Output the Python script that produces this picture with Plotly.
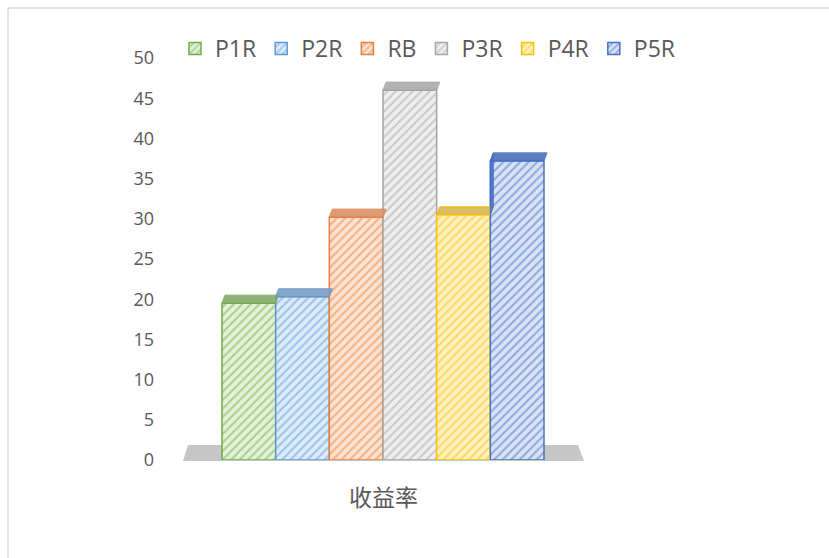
import plotly.graph_objects as go

# ---- data ----
categories = ["收益率"]
series_names = ["P1R", "P2R", "RB", "P3R", "P4R", "P5R"]
series_values = [19.5, 20.3, 30.2, 46.0, 30.5, 37.2]
y_ticks = [0, 5, 10, 15, 20, 25, 30, 35, 40, 45, 50]

# ---- styles ----
fg_colors = ["#70AD47", "#5B9BD5", "#ED7D31", "#A5A5A5", "#FFC000", "#4472C4"]
bg_colors = ["#E4F1DA", "#DDEBF8", "#FBE3D3", "#EFEFEF", "#FFF1C4", "#D9E3F4"]
cap_colors = ["#86A96C", "#7C9CC2", "#D9916A", "#ABABAB", "#D6B44E", "#4B6EBE"]

W, H = 829, 558
L, R, T, B = 183, 246, 58, 98
pw, ph = W - L - R, H - T - B

group = 0.805
bw = group / len(series_names)
start = -group / 2
cap_h = 1.0          # depth of the 3D cap in y units
cap_s = 3.0 / pw     # horizontal skew in x units

fig = go.Figure()
shapes = []

def px_x(p):
    return (p - L) / pw

def px_y(p):
    return (H - B - p) / ph

# floor
shapes.append(dict(type="path", xref="paper", yref="paper", layer="below",
                   path=f"M{px_x(183)},{px_y(461)} L{px_x(584)},{px_y(461)} "
                        f"L{px_x(578)},{px_y(445)} L{px_x(188)},{px_y(445)} Z",
                   fillcolor="#C6C6C6", line=dict(width=0)))

for i, (name, v) in enumerate(zip(series_names, series_values)):
    x0 = start + i * bw
    fig.add_trace(go.Bar(
        x=[0], y=[v], name=name, width=bw, offset=x0,
        marker=dict(color=bg_colors[i],
                    line=dict(color=fg_colors[i], width=1.5),
                    pattern=dict(shape="/", fgcolor=fg_colors[i], size=6,
                                 solidity=0.35, fillmode="overlay")),
        hovertext=categories[0],
    ))
    x1 = x0 + bw
    shapes.append(dict(type="path", xref="x", yref="y",
                       path=f"M{x0},{v} L{x1},{v} L{x1 + cap_s},{v + cap_h} L{x0 + cap_s},{v + cap_h} Z",
                       fillcolor=cap_colors[i], opacity=0.9,
                       line=dict(color=fg_colors[i], width=1)))
    # left side face only visible for bars right of the viewpoint
    if i > 0 and series_values[i - 1] < v and (x0 + bw / 2) > 0.1:
        pv = series_values[i - 1]
        shapes.append(dict(type="path", xref="x", yref="y",
                           path=f"M{x0},{pv} L{x0},{v} L{x0 + cap_s},{v + cap_h} L{x0 + cap_s},{pv + cap_h} Z",
                           fillcolor=cap_colors[i], opacity=0.9,
                           line=dict(color=fg_colors[i], width=1)))

# outer chart border
shapes.append(dict(type="rect", xref="paper", yref="paper",
                   x0=px_x(8), x1=px_x(900), y0=px_y(620), y1=px_y(8),
                   line=dict(color="#D9D9D9", width=1.5), fillcolor="rgba(0,0,0,0)"))

font_fam = "Open Sans, Noto Sans CJK SC, sans-serif"
fig.update_layout(
    width=W, height=H,
    margin=dict(l=L, r=R, t=T, b=B),
    paper_bgcolor="white", plot_bgcolor="white",
    barmode="overlay",
    font=dict(family=font_fam, color="#595959"),
    shapes=shapes,
    showlegend=True,
    legend=dict(orientation="h", x=px_x(175), y=px_y(27), xanchor="left", yanchor="top",
                font=dict(size=23, color="#595959"), traceorder="normal",
                itemwidth=30, bgcolor="rgba(0,0,0,0)"),
    xaxis=dict(range=[-0.5, 0.5], showticklabels=False, showgrid=False,
               zeroline=False, showline=False, fixedrange=True),
    yaxis=dict(range=[0, 50], tickvals=y_ticks, showgrid=False, zeroline=False,
               showline=False, tickfont=dict(size=18, color="#595959"),
               ticklabelstandoff=28),
    annotations=[dict(text=categories[0], xref="paper", yref="paper",
                      x=0.5, y=px_y(497), xanchor="center", yanchor="middle",
                      showarrow=False, font=dict(size=23, color="#595959"))],
)

fig.write_html("out.html", config={"displayModeBar": False},
               post_script="document.body.style.margin='0';document.body.style.overflow='hidden';")
